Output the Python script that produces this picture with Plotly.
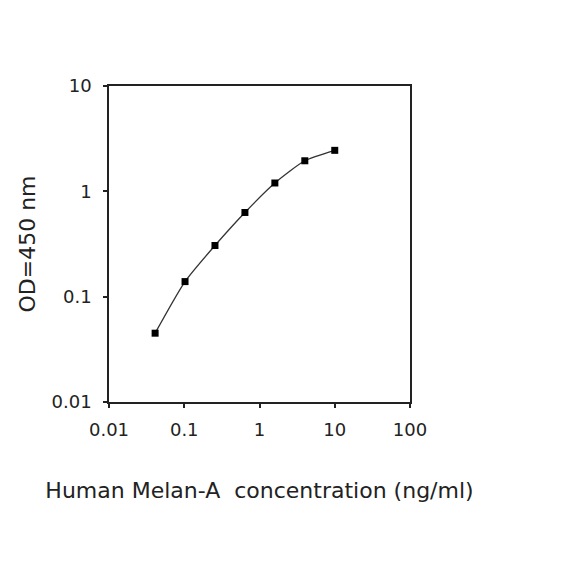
import plotly.graph_objects as go

conc = [0.041, 0.1024, 0.256, 0.64, 1.6, 4.0, 10.0]
od = [0.045, 0.139, 0.306, 0.63, 1.2, 1.95, 2.45]

x_ticks = [0.01, 0.1, 1, 10, 100]
x_labels = ["0.01", "0.1", "1", "10", "100"]
y_ticks = [0.01, 0.1, 1, 10]
y_labels = ["0.01", "0.1", "1", "10"]

FONT = "DejaVu Sans, Verdana, sans-serif"
INK = "#222222"

fig = go.Figure(
    go.Scatter(
        x=conc,
        y=od,
        mode="lines+markers",
        line=dict(color="#333333", width=1.3, shape="spline", smoothing=0.6),
        marker=dict(symbol="square", size=7, color="black"),
    )
)

axis_common = dict(
    type="log",
    showgrid=False,
    zeroline=False,
    showline=True,
    linecolor=INK,
    linewidth=1.5,
    mirror=True,
    ticks="outside",
    ticklen=4,
    tickwidth=1.5,
    tickcolor=INK,
    tickfont=dict(family=FONT, size=18, color=INK),
)

fig.update_xaxes(
    **axis_common,
    range=[-2, 2],
    tickvals=x_ticks,
    ticktext=x_labels,
    ticklabelstandoff=7,
    title=dict(
        text="Human Melan-A  concentration (ng/ml)",
        font=dict(family=FONT, size=22, color=INK),
        standoff=43,
    ),
)
fig.update_yaxes(
    **axis_common,
    range=[-2, 1],
    tickvals=y_ticks,
    ticktext=y_labels,
    ticklabelstandoff=8,
    title=dict(
        text="OD=450 nm",
        font=dict(family=FONT, size=22, color=INK),
        standoff=10,
    ),
)

fig.update_layout(
    width=576,
    height=576,
    margin=dict(l=101, r=174, t=78, b=182),
    paper_bgcolor="white",
    plot_bgcolor="white",
    showlegend=False,
)

fig.write_html("out.html")
